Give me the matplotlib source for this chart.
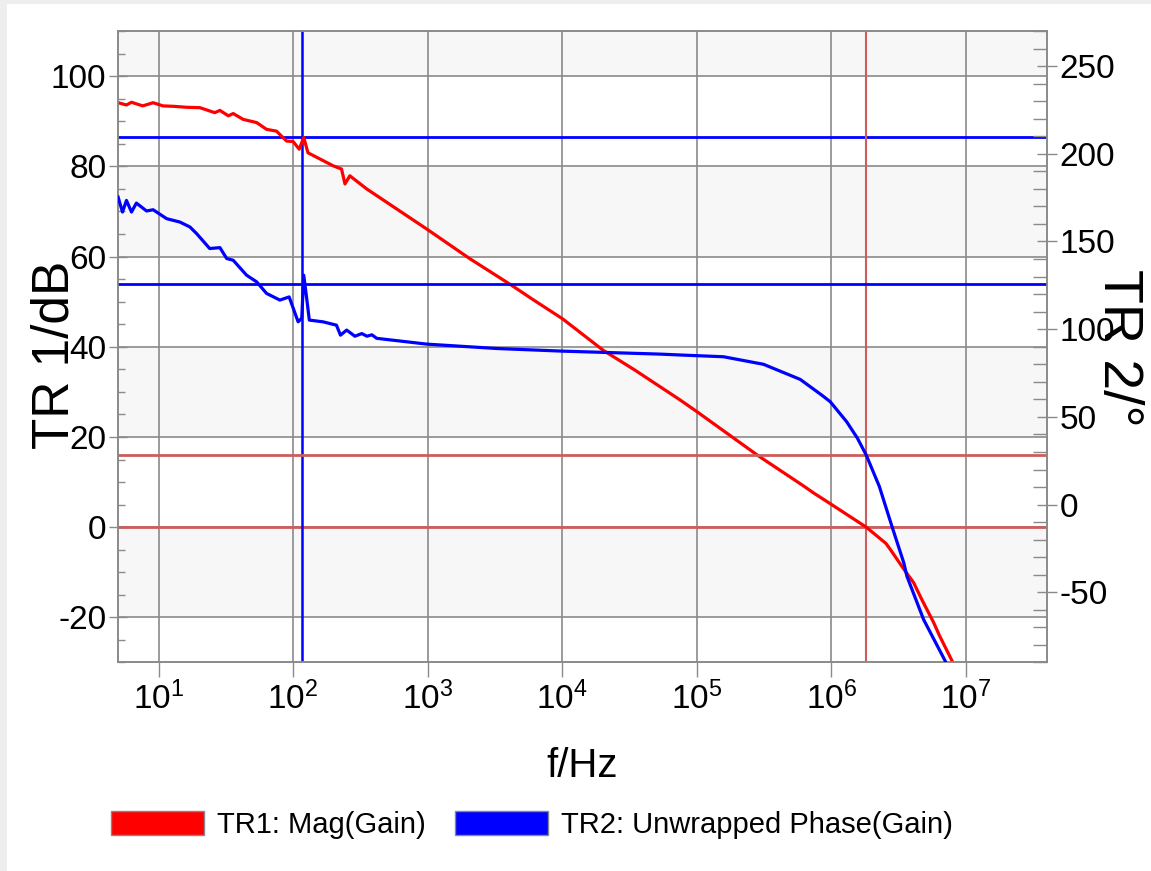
import matplotlib
matplotlib.use("Agg")
import matplotlib.pyplot as plt
from matplotlib.patches import Patch, Rectangle
from matplotlib.ticker import MultipleLocator, FixedLocator, FixedFormatter, NullLocator

FONT = ['Liberation Sans', 'DejaVu Sans']
plt.rcParams['font.family'] = FONT
plt.rcParams['mathtext.fontset'] = 'custom'
plt.rcParams['mathtext.rm'] = 'Liberation Sans'
plt.rcParams['mathtext.default'] = 'regular'
plt.rcParams['axes.unicode_minus'] = False

# TR1: magnitude of gain (dB)
mag_freq = [5.01, 5.78, 6.30, 7.64, 9.12, 10.8, 13.0, 16.0, 20.3, 26.2, 28.6, 33.0,
            35.9, 42.6, 53.6, 63.5, 75.3, 89.5, 100, 111, 120, 129, 199, 229, 243,
            264, 352, 984, 2062, 4217, 5957, 10046, 20184, 34750, 75162, 100230,
            287078, 623735, 736207, 1.005e6, 1.816e6, 2.541e6, 2.735e6, 3.451e6,
            4.083e6, 4.688e6, 5.741e6, 6.368e6, 7.870e6, 8.51e6]
mag_db = [94.1, 93.6, 94.2, 93.4, 94.1, 93.4, 93.3, 93.1, 93.0, 91.9, 92.4, 91.2,
          91.7, 90.4, 89.7, 88.2, 87.8, 85.6, 85.5, 83.8, 86.4, 83.0, 80.1, 79.4, 76.1,
          77.9, 75.0, 66.1, 59.5, 53.6, 50.6, 46.2, 39.2, 34.8, 28.2, 25.6,
          15.8, 9.1, 7.6, 5.0, 0.0, -3.6, -4.9, -9.3,
          -12.3, -16.0, -21.1, -24.1, -29.6, -31.5]

# TR2: unwrapped phase of gain (deg)
ph_freq = [5.01, 5.40, 5.78, 6.30, 6.85, 8.15, 9.12, 11.5, 14.4, 17.1, 19.2, 24.0,
           28.6, 32.1, 35.9, 45.1, 53.6, 63.5, 79.8, 93.5, 109, 116, 120, 126, 132,
           167, 210, 225, 250, 288, 324, 354, 385, 418, 984, 3258, 10000, 53300,
           75162, 157761, 312608, 586138, 845279, 979490, 1.297e6, 1.560e6,
           1.816e6, 2.27e6, 2.818e6, 3.451e6, 3.639e6, 4.842e6, 7.015e6, 7.41e6]
ph_deg = [175.3, 166.8, 173.4, 166.8, 171.9, 167.4, 168.1, 163.0, 161.1, 158.3, 154.5, 146.0,
          146.5, 140.3, 139.3, 130.8, 127.0, 120.4, 116.6, 118.4, 104.2, 106.3, 130.8, 118.0, 105.2,
          104.2, 102.3, 96.6, 99.5, 96.0, 97.5, 96.0, 96.8, 94.8, 91.5, 89.0, 87.5, 85.8,
          85.3, 84.3, 80.0, 71.4, 62.5, 58.7, 47.3, 37.9,
          28.2, 10.4, -12.4, -33.2, -40.8, -65.5, -89.2, -94.0]

# cursors
cur1_freq, cur1_mag, cur1_phase = 116, 86.5, 125.6
cur2_freq, cur2_mag, cur2_phase = 1.82e6, 0.0, 28.3

x_ticks = [1e1, 1e2, 1e3, 1e4, 1e5, 1e6, 1e7]
x_ticklabels = ['$10^{1}$', '$10^{2}$', '$10^{3}$', '$10^{4}$', '$10^{5}$', '$10^{6}$', '$10^{7}$']

RED = '#ff0000'
BLUE = '#0000ff'
CUR_RED = '#cd5c5c'
GRID = '#8a8a8a'

fig = plt.figure(figsize=(11.51, 8.71), dpi=100)
fig.patch.set_facecolor('#eeeeee')
fig.patches.append(Rectangle((7 / 1151, 0), 1, 1 - 4 / 871, transform=fig.transFigure,
                             facecolor='white', edgecolor='none', zorder=-10))

ax = fig.add_axes([118 / 1151, 0.2394, 929 / 1151, 0.7250])
ax.set_facecolor('white')
ax.set_xscale('log')
ax.set_xlim(5, 4e7)
ax.set_ylim(-30, 110)

# alternating light bands
for lo, hi in [(-20, 0), (20, 40), (60, 80), (100, 120)]:
    ax.axhspan(lo, hi, color='#f7f7f7', zorder=0, lw=0)

ax.xaxis.set_major_locator(FixedLocator(x_ticks))
ax.xaxis.set_major_formatter(FixedFormatter(x_ticklabels))
ax.xaxis.set_minor_locator(NullLocator())
ax.yaxis.set_major_locator(MultipleLocator(20))
ax.yaxis.set_minor_locator(MultipleLocator(5))
ax.grid(True, which='major', color=GRID, lw=1.2, zorder=1)
ax.set_axisbelow(True)

ax.tick_params(axis='x', which='major', direction='out', length=11, width=1, color=GRID,
               labelsize=24, pad=3)
ax.tick_params(axis='y', which='major', direction='inout', length=13, width=1, color=GRID,
               labelsize=24, pad=2)
ax.tick_params(axis='y', which='minor', direction='in', length=5, width=1, color=GRID)
for s in ax.spines.values():
    s.set_color(GRID)
    s.set_linewidth(1.2)

ax.plot(mag_freq, mag_db, color=RED, lw=2.3, zorder=3)
ax.axhline(cur1_mag, color=BLUE, lw=2.0, zorder=2.5)
ax.axhline(cur2_mag, color=CUR_RED, lw=2.0, zorder=2.5)
ax.axvline(cur1_freq, color=BLUE, lw=1.8, zorder=2.5)
ax.axvline(cur2_freq, color=CUR_RED, lw=1.5, zorder=2.5)

ax2 = ax.twinx()
ax2.set_ylim(-90, 270)
ax2.yaxis.set_major_locator(MultipleLocator(50))
ax2.yaxis.set_minor_locator(MultipleLocator(10))
ax2.tick_params(axis='y', which='major', direction='inout', length=14, width=1, color=GRID,
                labelsize=24, pad=2)
ax2.tick_params(axis='y', which='minor', direction='in', length=10, width=1, color=GRID)
for s in ax2.spines.values():
    s.set_color(GRID)
    s.set_linewidth(1.2)

ax2.axhline(cur1_phase, color=BLUE, lw=2.0, zorder=2.5)
ax2.axhline(cur2_phase, color=CUR_RED, lw=2.0, zorder=2.5)
ax2.plot(ph_freq, ph_deg, color=BLUE, lw=2.3, zorder=3)

fig.text(55 / 1151, 1 - 355 / 871, 'TR 1/dB', rotation=90, fontsize=37,
         ha='center', va='center')
fig.text(1118 / 1151, 1 - 348 / 871, 'TR 2/°', rotation=270, fontsize=40,
         ha='center', va='center')
fig.text(582 / 1151, 1 - 766 / 871, 'f/Hz', fontsize=29, ha='center', va='center')

handles = [Patch(facecolor=RED, edgecolor='#888888'), Patch(facecolor=BLUE, edgecolor='#888888')]
fig.legend(handles, ['TR1: Mag(Gain)', 'TR2: Unwrapped Phase(Gain)'], loc='center',
           bbox_to_anchor=(532 / 1151, 1 - 825 / 871), ncol=2, frameon=False, fontsize=21,
           handlelength=3.2, handleheight=0.85, handletextpad=0.45, columnspacing=1.0)

fig.savefig('out.png', dpi=100)
